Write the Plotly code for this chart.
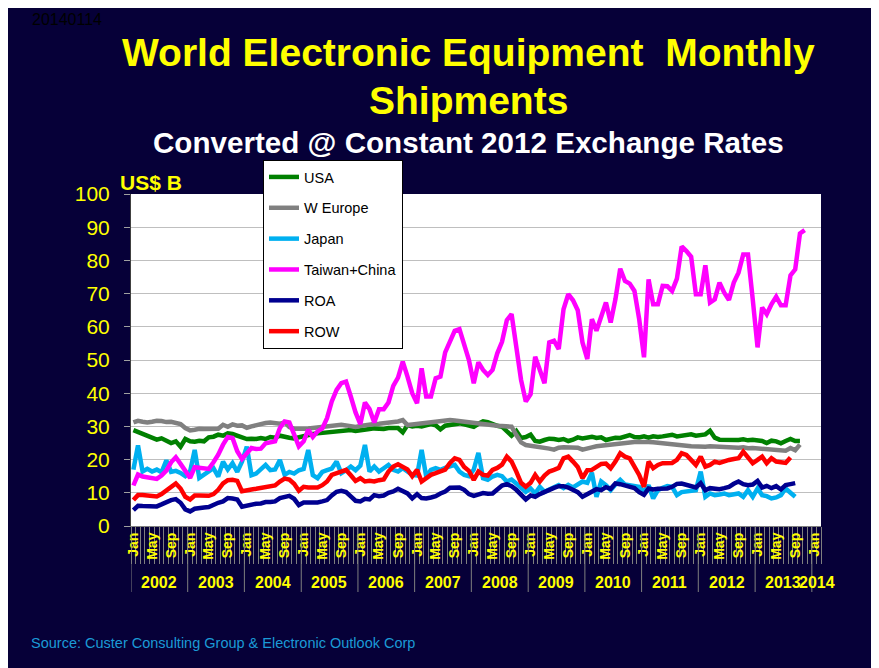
import pandas as pd
import plotly.graph_objects as go

# ---------------- data (US$ B, monthly from Jan 2002) ----------------
months = pd.date_range("2002-01-01", periods=143, freq="MS").strftime("%Y-%m").tolist()

usa = [28.9, 28.3, 27.6, 27.2, 26.5, 26.0, 26.4, 25.8, 25.0, 25.5, 23.9, 26.2,
       25.5, 25.4, 25.7, 25.5, 26.7, 26.9, 27.5, 27.2, 27.9, 27.7, 27.2, 26.7,
       26.2, 26.3, 26.2, 26.5, 26.2, 26.8, 26.6, 27.2, 26.8, 26.6, 26.4, 26.8,
       27.2, 27.4, 27.7, 27.9, 28.0, 28.2, 28.4, 28.5, 28.6, 28.5, 28.9, 28.6,
       28.9, 29.1, 29.2, 29.4, 29.3, 29.2, 29.5, 29.6, 29.5, 28.2, 30.4, 30.0,
       30.2, 30.0, 30.3, 30.7, 30.3, 29.1, 30.2, 30.5, 30.6, 30.9, 30.6, 30.4,
       29.9, 30.8, 31.5, 31.3, 30.6, 30.2, 29.9, 28.5, 27.2, 28.6, 26.5, 26.8,
       27.5, 25.6, 25.4, 25.9, 26.3, 26.2, 25.9, 26.2, 25.6, 26.0, 26.7, 26.4,
       26.6, 26.9, 26.5, 26.7, 25.9, 26.3, 26.6, 26.5, 27.0, 27.4, 26.8, 26.7,
       27.0, 26.6, 27.0, 26.8, 27.0, 27.2, 27.5, 27.0, 27.2, 27.4, 27.6, 27.2,
       27.4, 27.6, 28.7, 26.6, 26.0, 25.9, 25.8, 26.0, 25.9, 26.1, 25.8, 26.0,
       25.9, 25.6, 25.0, 25.7, 25.5, 24.9, 25.6, 26.2, 25.6, 25.6]

w_europe = [31.2, 31.7, 31.4, 31.2, 31.4, 31.7, 31.6, 31.3, 31.4, 31.0, 30.7, 29.5,
            28.8, 29.0, 29.3, 29.2, 29.2, 29.2, 29.3, 30.5, 29.9, 30.6, 30.2, 30.3,
            29.6, 30.0, 30.4, 30.8, 31.0, 31.2, 31.0, 30.8, 31.2, 29.8, 29.3, 29.2,
            29.3, 29.4, 29.6, 29.7, 29.9, 30.1, 30.3, 30.3, 30.5, 30.3, 30.0, 29.8,
            30.1, 30.4, 30.6, 30.7, 30.8, 30.9, 31.0, 31.2, 31.5, 31.9, 30.4, 30.6,
            30.8, 31.0, 31.2, 31.4, 31.5, 31.6, 31.8, 31.9, 31.8, 31.6, 31.3, 31.2,
            30.9, 30.7, 30.7, 30.5, 30.4, 30.2, 30.1, 30.0, 29.9, 27.4, 25.2, 24.4,
            24.2, 24.2, 23.8, 23.5, 23.3, 23.0, 23.6, 23.7, 23.7, 23.8, 23.6, 23.0,
            23.5, 23.7, 24.0, 24.2, 24.4, 24.6, 24.7, 25.0, 25.1, 25.2, 25.3, 25.3,
            25.4, 25.3, 25.2, 25.1, 25.0, 24.9, 24.8, 24.6, 24.3, 24.2, 24.0, 23.9,
            23.9, 23.9, 24.0, 23.9, 23.9, 23.8, 23.7, 23.5, 23.6, 23.7, 23.4, 23.5,
            23.4, 23.2, 23.3, 23.1, 22.9, 23.0, 22.7, 23.5, 22.8, 24.5]

japan = [17.0, 24.3, 16.4, 17.2, 16.4, 17.0, 16.2, 19.8, 16.3, 16.6, 16.0, 15.0,
         16.4, 22.9, 14.5, 15.5, 16.4, 17.4, 14.9, 19.4, 17.0, 18.9, 16.3, 19.4,
         23.9, 15.3, 15.8, 17.3, 18.4, 16.8, 17.0, 19.9, 15.4, 16.3, 15.8, 16.8,
         17.2, 22.9, 15.3, 14.4, 16.3, 16.8, 17.3, 19.4, 15.9, 16.8, 17.9, 16.8,
         18.2, 24.4, 16.4, 17.9, 16.4, 17.4, 18.4, 16.9, 16.4, 17.4, 16.2, 15.4,
         15.2, 22.9, 14.9, 16.9, 17.4, 16.9, 17.5, 17.9, 18.4, 16.4, 15.4, 15.0,
         17.0, 22.0, 14.4, 13.9, 14.9, 15.4, 15.0, 13.4, 14.0, 12.8, 11.5, 10.3,
         11.3, 9.8, 11.8, 10.3, 11.0, 11.8, 12.3, 11.4, 12.4, 11.6, 12.5, 13.4,
         13.0, 16.1, 8.8, 13.4, 12.3, 10.8, 12.5, 13.9, 12.5, 12.3, 12.3, 11.8,
         10.3, 12.3, 8.3, 10.8, 11.5, 12.0, 11.8, 9.3, 10.2, 10.5, 10.8, 10.8,
         16.4, 8.8, 9.8, 9.3, 9.5, 9.8, 9.3, 9.5, 9.8, 8.8, 10.8, 8.8,
         11.3, 9.3, 9.0, 8.3, 8.6, 9.3, 11.3, 10.0, 8.8]

taiwan_china = [12.2, 15.5, 14.9, 14.7, 14.5, 14.2, 15.2, 16.7, 19.2, 20.7, 18.7, 16.7,
                14.5, 17.7, 17.5, 17.4, 17.2, 19.2, 21.5, 24.5, 26.8, 26.5, 22.5, 20.2,
                21.8, 23.5, 23.2, 23.3, 24.9, 25.3, 25.5, 29.5, 31.5, 31.2, 28.0, 24.0,
                25.5, 29.0, 26.8, 28.5, 29.4, 32.5, 37.5, 41.0, 43.0, 43.5, 39.0, 34.2,
                30.7, 37.2, 35.2, 31.2, 35.2, 35.2, 37.2, 42.2, 44.7, 49.5, 45.0, 40.0,
                37.0, 47.5, 39.0, 39.0, 44.5, 45.0, 52.3, 56.0, 58.8, 59.3, 55.0, 50.0,
                43.0, 49.3, 47.0, 45.5, 47.0, 52.0, 55.5, 62.0, 63.8, 54.0, 44.0, 37.5,
                39.7, 51.0, 47.0, 43.0, 55.3, 55.8, 53.3, 65.3, 69.8, 68.0, 65.0, 55.3,
                50.3, 62.3, 58.8, 63.0, 67.3, 61.3, 68.3, 77.5, 73.8, 73.0, 70.8, 62.3,
                50.8, 74.3, 66.8, 66.8, 72.3, 72.2, 70.8, 74.5, 84.2, 82.8, 81.1, 69.8,
                69.8, 78.5, 67.3, 68.3, 73.3, 70.3, 68.1, 73.3, 76.3, 81.8, 81.8, 68.3,
                53.8, 65.8, 63.8, 66.8, 69.1, 66.5, 66.5, 75.5, 77.3, 88.1, 89.1]

roa = [4.8, 6.1, 6.0, 5.9, 5.9, 5.9, 6.5, 7.2, 7.8, 8.1, 7.0, 5.0,
       4.4, 5.2, 5.5, 5.6, 5.7, 6.5, 7.0, 7.4, 8.4, 8.3, 8.0, 5.8,
       6.2, 6.5, 6.7, 6.8, 7.2, 7.2, 7.4, 8.4, 8.9, 9.1, 8.2, 6.3,
       7.1, 7.0, 7.0, 7.1, 7.4, 7.8, 9.2, 10.3, 10.6, 10.2, 8.9, 7.6,
       7.4, 8.2, 8.0, 9.3, 9.0, 9.2, 10.0, 10.4, 11.2, 10.6, 9.8, 8.3,
       9.6, 8.4, 8.3, 8.6, 9.0, 9.8, 10.4, 11.5, 11.7, 11.6, 10.9, 9.6,
       9.1, 9.6, 9.9, 9.7, 9.8, 11.0, 12.2, 12.6, 12.0, 10.9, 9.6, 8.0,
       9.2, 8.8, 9.6, 10.3, 10.7, 11.5, 12.0, 12.0, 11.6, 11.0, 10.2, 8.8,
       9.5, 10.3, 11.1, 10.8, 11.7, 11.2, 12.8, 12.6, 12.3, 12.0, 11.4, 10.2,
       9.4, 11.3, 11.0, 11.2, 11.2, 11.3, 11.8, 12.7, 12.8, 12.5, 12.0, 11.6,
       12.9, 10.8, 11.4, 11.2, 11.1, 11.4, 11.8, 12.7, 13.4, 12.6, 12.3, 12.5,
       13.6, 11.6, 12.1, 11.4, 12.0, 11.0, 12.3, 12.6, 12.9]

row = [7.8, 9.3, 9.3, 9.1, 9.0, 8.9, 9.6, 10.8, 11.9, 12.8, 11.3, 8.8,
       8.0, 9.2, 9.2, 9.1, 9.1, 9.6, 10.9, 12.8, 13.8, 13.9, 13.6, 10.5,
       10.6, 11.0, 11.2, 11.4, 11.6, 11.8, 12.2, 13.4, 14.3, 14.0, 12.7, 10.6,
       11.8, 11.6, 11.5, 11.6, 12.3, 13.4, 15.4, 15.8, 16.4, 16.9, 15.3, 13.6,
       14.4, 13.4, 13.6, 13.4, 13.8, 14.0, 16.4, 17.9, 18.6, 17.9, 17.0, 15.0,
       16.9, 13.4, 14.6, 15.4, 15.9, 16.4, 17.0, 19.0, 20.4, 19.9, 17.8, 16.6,
       13.9, 16.4, 15.4, 15.2, 16.9, 17.5, 18.5, 20.9, 19.4, 16.4, 13.0, 11.8,
       13.0, 15.4, 13.4, 15.2, 16.4, 16.9, 17.5, 20.4, 20.9, 19.4, 17.8, 14.4,
       16.8, 16.9, 17.8, 18.7, 18.8, 17.4, 19.4, 21.9, 20.9, 20.4, 17.9, 15.4,
       11.8, 19.4, 17.4, 18.4, 18.9, 18.9, 19.0, 19.9, 21.9, 21.4, 19.9, 18.4,
       20.9, 17.9, 18.4, 19.4, 19.0, 19.6, 19.9, 20.2, 20.4, 22.4, 20.4, 18.9,
       19.9, 20.9, 18.9, 20.4, 19.4, 19.3, 19.0, 20.6]

series_names = ["USA", "W Europe", "Japan", "Taiwan+China", "ROA", "ROW"]
series_values = [usa, w_europe, japan, taiwan_china, roa, row]
series_colors = ["#008000", "#808080", "#00B0F0", "#FF00FF", "#000090", "#FF0000"]

years = list(range(2002, 2015))
month_label_names = {1: "Jan", 5: "May", 9: "Sep"}

# ---------------- styling / layout ----------------
NAVY = "#060038"
YELLOW = "#FFFF00"
FONT = "Liberation Sans, Arial, sans-serif"
OFF = 8                      # page offset of the figure (browser body margin)
W, H = 879 - OFF, 668 - OFF  # figure size
L, R, T, B = 131, 821, 194, 526   # plot area in page pixels


def px(x):
    return (x - L) / (R - L)


def py(y):
    return (B - y) / (B - T)


fig = go.Figure()
for name, vals, col in zip(series_names, series_values, series_colors):
    fig.add_trace(go.Scatter(
        x=months[:len(vals)], y=vals, name=name, mode="lines",
        xperiod="M1", xperiodalignment="middle",
        line=dict(color=col, width=4.5),
        legendgroup=name,
    ))

# month tick labels
tickvals, ticktext = [], []
for yr in years:
    for m, lab in month_label_names.items():
        if yr == 2014 and m > 1:
            continue
        tickvals.append(f"{yr}-{m:02d}-16")
        ticktext.append(lab)

shapes = []
annotations = []
for yr in years:
    shapes.append(dict(type="line", xref="x", yref="paper",
                       x0=f"{yr}-01-01", x1=f"{yr}-01-01", y0=0, y1=py(592),
                       line=dict(color="#7F7F7F", width=1)))
    xc = f"{yr}-07-01" if yr < 2014 else "2014-02-01"
    annotations.append(dict(x=xc, xref="x", y=py(582), yref="paper",
                            text=str(yr), showarrow=False,
                            font=dict(family=FONT, size=16, color=YELLOW, weight="bold"),
                            xanchor="center", yanchor="middle"))

annotations += [
    dict(x=px(468), y=py(52), xref="paper", yref="paper", showarrow=False,
         text="World Electronic Equipment  Monthly", xanchor="center", yanchor="middle",
         font=dict(family=FONT, size=39, color=YELLOW, weight="bold")),
    dict(x=px(468), y=py(100), xref="paper", yref="paper", showarrow=False,
         text="Shipments", xanchor="center", yanchor="middle",
         font=dict(family=FONT, size=39, color=YELLOW, weight="bold")),
    dict(x=px(468), y=py(142), xref="paper", yref="paper", showarrow=False,
         text="Converted @ Constant 2012 Exchange Rates", xanchor="center", yanchor="middle",
         font=dict(family=FONT, size=29.6, color="white", weight="bold")),
    dict(x=px(151), y=py(182), xref="paper", yref="paper", showarrow=False,
         text="US$ B", xanchor="center", yanchor="middle",
         font=dict(family=FONT, size=21, color=YELLOW, weight="bold")),
    dict(x=px(30), y=py(19), xref="paper", yref="paper", showarrow=False,
         text="20140114", xanchor="left", yanchor="middle",
         font=dict(family=FONT, size=16, color="black")),
    dict(x=px(29), y=py(643), xref="paper", yref="paper", showarrow=False,
         text="Source: Custer Consulting Group & Electronic Outlook Corp",
         xanchor="left", yanchor="middle",
         font=dict(family=FONT, size=14.5, color="#1B9AD6")),
]

fig.update_layout(
    width=W, height=H,
    margin=dict(l=L - OFF, r=W - (R - OFF), t=T - OFF, b=H - (B - OFF), pad=0),
    paper_bgcolor=NAVY, plot_bgcolor="white",
    font=dict(family=FONT),
    showlegend=True,
    legend=dict(x=px(263), y=py(160), xanchor="left", yanchor="top",
                bgcolor="white", bordercolor="black", borderwidth=1,
                font=dict(family=FONT, size=14.5, color="black"),
                tracegroupgap=9, itemwidth=30, traceorder="grouped"),
    xaxis=dict(
        type="date", range=["2002-01-01", "2014-03-01"],
        tickmode="array", tickvals=tickvals, ticktext=ticktext,
        tickangle=-90, ticks="", showgrid=False,
        tickfont=dict(family=FONT, size=14, color=YELLOW, weight="bold"),
        showline=True, linecolor="#808080", linewidth=1,
        minor=dict(tickmode="linear", tick0="2002-01-01", dtick="M1",
                   ticks="outside", ticklen=37, tickcolor="#7F7F7F", tickwidth=1,
                   showgrid=False),
        zeroline=False,
    ),
    yaxis=dict(
        range=[0, 100], dtick=10, tick0=0,
        showgrid=True, gridcolor="#BFBFBF", gridwidth=1,
        ticks="outside", ticklen=6, tickcolor="#A0A0A0",
        tickfont=dict(family=FONT, size=21, color=YELLOW),
        ticklabelstandoff=10,
        showline=True, linecolor="#404040", linewidth=1,
        zeroline=False,
    ),
    shapes=shapes,
    annotations=annotations,
)

fig.write_html("out.html")
